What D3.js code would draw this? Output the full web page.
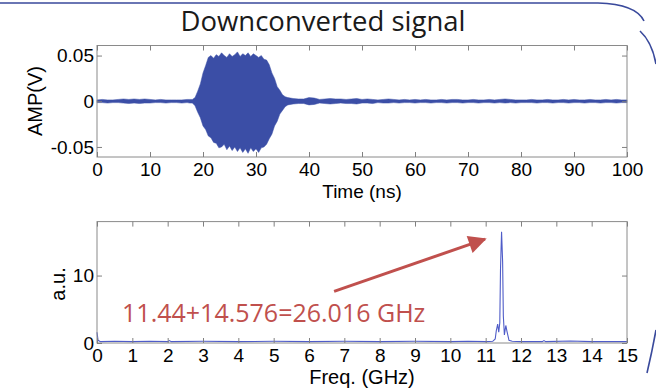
<!DOCTYPE html>
<html>
<head>
<meta charset="utf-8">
<script src="https://cdn.jsdelivr.net/npm/d3@7"></script>
<style>
  body { margin: 0; background: #fff; }
  svg { display: block; }
  .tick text { font-family: "Liberation Sans", Arial, sans-serif; font-size: 19px; fill: #000; }
  .tick line { stroke: #808080; }
</style>
</head>
<body>
<figure id="chart" style="margin:0"></figure>
<script>
// Time-domain envelope (ns, mV)
const timeNs = [0,1,2,3,4,5,6,7,8,9,10,11,12,13,14,15,16,17,17.5,
  18,18.5,19,19.5,20,20.5,21,21.5,22,22.5,23,23.5,24,24.5,25,25.5,26,26.5,27,27.5,
  28,28.5,29,29.5,30,30.5,31,31.5,32,32.5,33,33.5,34,34.5,35,35.5,36,
  37,38,39,40,41,42,43,44,45,46,47,48,49,50,51,52,53,54,55,56,57,58,59,60,
  61,62,63,64,65,66,67,68,69,70,71,72,73,74,75,76,77,78,79,80,
  81,82,83,84,85,86,87,88,89,90,91,92,93,94,95,96,97,98,99,100];
const upperMv = [1.5,2,1.5,1.5,2,2.5,2,2.5,2,2.5,2,1.5,2,1.5,1.5,1.5,1.5,2,2,
  2,4,11,19,31,39,48,50,47,51,49,53,50,48,52,49,51,54,49,52,
  50,53,49,52,50,48,50,46,45,40,31,25,16,12,7,5,4,
  3,2.5,2.5,4,3.5,2,2.5,3,2.5,2.5,2,2.5,3,2,2.5,2,1.5,2,2.5,2,1.5,2,1.5,2,
  1.5,2,1.5,1.5,2,1.5,2,2,1.5,1.5,2,1.5,1.5,2,1.5,2,2.5,2,1.5,1.5,
  1.5,2,1.5,1.5,2,1.5,1.5,2,1.5,2,1.5,1.5,2,1.5,1.5,2,1.5,2,1.5,1.5];
const lowerMv = [-1.5,-1.5,-2,-1.5,-1.5,-2,-2.5,-2,-2.5,-2,-2,-1.5,-1.5,-2,-1.5,-1.5,-2,-1.5,-2,
  -2,-5,-12,-18,-27,-31,-38,-40,-45,-46,-51,-50,-47,-53,-49,-54,-50,-55,-51,-56,
  -52,-57,-51,-55,-52,-56,-51,-50,-47,-41,-36,-27,-22,-14,-10,-6,-4,
  -3,-2.5,-2.5,-4,-3.5,-2,-2.5,-3,-2.5,-2,-2.5,-2.5,-3,-2,-2,-2.5,-1.5,-2,-2,-1.5,-2,-1.5,-1.5,-2,
  -1.5,-1.5,-2,-1.5,-1.5,-2,-1.5,-1.5,-2,-1.5,-1.5,-2,-1.5,-1.5,-2,-1.5,-2,-1.5,-2,-1.5,
  -1.5,-1.5,-2,-1.5,-1.5,-2,-1.5,-1.5,-2,-1.5,-1.5,-2,-1.5,-1.5,-2,-1.5,-1.5,-2,-1.5,-1.5];

// Spectrum (GHz, a.u.)
const freqGHz = [0,0.03,0.1,0.5,1,1.5,2,2.05,2.1,3,4,5,6,7,8,9,10,10.5,11,11.2,11.27,11.3,11.34,11.37,
  11.4,11.42,11.45,11.48,11.5,11.53,11.57,11.6,11.66,11.75,12,12.6,12.65,12.7,13.4,14,15];
const ampAu = [1.6,0.4,0.2,0.25,0.2,0.25,0.2,0.35,0.2,0.25,0.2,0.25,0.2,0.25,0.2,0.25,0.2,0.25,0.2,0.25,0.6,1.8,2.8,1.6,
  3,11,16.5,12,4,1.2,2.6,1.8,0.4,0.25,0.2,0.2,0.35,0.2,0.3,0.2,0.2];

const timeTicks = [0,10,20,30,40,50,60,70,80,90,100];
const ampTicks = [-50,0,50];
const ampTickLabels = ["-0.05","0","0.05"];
const freqTicks = [0,1,2,3,4,5,6,7,8,9,10,11,12,13,14,15];
const auTicks = [0,10];

const annoText = "11.44+14.576=26.016 GHz";
const annoTextPos = [0.71, 3.1];
const arrowFrom = [6.71, 7.65];
const arrowTo = [10.98, 15.4];

const W = 656, H = 388;
const svg = d3.select("#chart").append("svg").attr("width", W).attr("height", H);
svg.append("rect").attr("width", W).attr("height", H).attr("fill", "#fff");

// slide decorations
const deco = svg.append("g").attr("fill", "none").attr("stroke", "#3a4a9c").attr("stroke-width", 1.6);
deco.append("path").attr("d", "M0,3 L598,3 Q636,4 644,21");
deco.append("path").attr("d", "M640,31 Q652,42 656,64");
deco.append("path").attr("d", "M656,330 Q652,352 647,373");

// title
svg.append("text").attr("x", 323).attr("y", 31).attr("text-anchor", "middle")
  .style("font-family", "'Open Sans', sans-serif").style("font-size", "27.5px").attr("fill", "#1a1a1a")
  .text("Downconverted signal");

const left = 97, right = 627;
const x1 = d3.scaleLinear().domain([0, 100]).range([left, right]);
const y1 = d3.scaleLinear().domain([-61, 61]).range([157, 45.5]);
const x2 = d3.scaleLinear().domain([0, 15]).range([left, right]);
const y2 = d3.scaleLinear().domain([0, 18]).range([343, 221.6]);

function frame(x, y) {
  svg.append("rect").attr("x", x.range()[0]).attr("y", y.range()[1])
    .attr("width", x.range()[1] - x.range()[0]).attr("height", y.range()[0] - y.range()[1])
    .attr("fill", "none").attr("stroke", "#8a8a8a").attr("stroke-width", 1);
}

function axes(x, y, xt, yt, ytFmt) {
  const yb = y.range()[0], yt0 = y.range()[1];
  const xl = x.range()[0], xr = x.range()[1];
  const gb = svg.append("g").attr("transform", "translate(0," + yb + ")")
    .call(d3.axisBottom(x).tickValues(xt).tickSize(-5).tickPadding(6).tickFormat(d3.format("d")));
  const gt = svg.append("g").attr("transform", "translate(0," + yt0 + ")")
    .call(d3.axisTop(x).tickValues(xt).tickSize(-5).tickFormat(""));
  const gl = svg.append("g").attr("transform", "translate(" + xl + ",0)")
    .call(d3.axisLeft(y).tickValues(yt).tickSize(-5).tickPadding(3).tickFormat(ytFmt));
  const gr = svg.append("g").attr("transform", "translate(" + xr + ",0)")
    .call(d3.axisRight(y).tickValues(yt).tickSize(-5).tickFormat(""));
  [gb, gt, gl, gr].forEach(g => g.select(".domain").remove());
}

// ---- top plot
const area = d3.area()
  .x((d, i) => x1(timeNs[i]))
  .y0((d, i) => y1(lowerMv[i]))
  .y1((d, i) => y1(upperMv[i]));
svg.append("path").datum(timeNs).attr("d", area)
  .attr("fill", "#3b4ea6").attr("stroke", "#3b4ea6").attr("stroke-width", 0.5);
frame(x1, y1);
axes(x1, y1, timeTicks, ampTicks, (d, i) => ampTickLabels[i]);

svg.append("text").attr("transform", "translate(42,101) rotate(-90)").attr("text-anchor", "middle")
  .style("font-family", "'Liberation Sans', Arial, sans-serif").style("font-size", "20px")
  .text("AMP(V)");
svg.append("text").attr("x", 362).attr("y", 198).attr("text-anchor", "middle")
  .style("font-family", "'Liberation Sans', Arial, sans-serif").style("font-size", "19px")
  .text("Time (ns)");

// ---- bottom plot
const line = d3.line().x((d, i) => x2(freqGHz[i])).y((d, i) => y2(ampAu[i]));
svg.append("path").datum(freqGHz).attr("d", line)
  .attr("fill", "none").attr("stroke", "#4f5cc8").attr("stroke-width", 1.1);
frame(x2, y2);
axes(x2, y2, freqTicks, auTicks, d3.format("d"));

svg.append("text").attr("transform", "translate(65,284) rotate(-90)").attr("text-anchor", "middle")
  .style("font-family", "'Liberation Sans', Arial, sans-serif").style("font-size", "20px")
  .text("a.u.");
svg.append("text").attr("x", 362).attr("y", 384).attr("text-anchor", "middle")
  .style("font-family", "'Liberation Sans', Arial, sans-serif").style("font-size", "20px")
  .text("Freq. (GHz)");

// annotation
const red = "#c0504d";
svg.append("defs").append("marker").attr("id", "head")
  .attr("viewBox", "0 0 10 10").attr("refX", 9).attr("refY", 5)
  .attr("markerWidth", 7).attr("markerHeight", 6).attr("markerUnits", "strokeWidth")
  .attr("orient", "auto")
  .append("path").attr("d", "M0,0 L10,5 L0,10 Z").attr("fill", red);
svg.append("line")
  .attr("x1", x2(arrowFrom[0])).attr("y1", y2(arrowFrom[1]))
  .attr("x2", x2(arrowTo[0])).attr("y2", y2(arrowTo[1]))
  .attr("stroke", red).attr("stroke-width", 3).attr("marker-end", "url(#head)");
svg.append("text").attr("x", x2(annoTextPos[0])).attr("y", y2(annoTextPos[1]))
  .style("font-family", "'Open Sans', sans-serif").style("font-size", "25px").attr("fill", red)
  .text(annoText);
</script>
</body>
</html>
